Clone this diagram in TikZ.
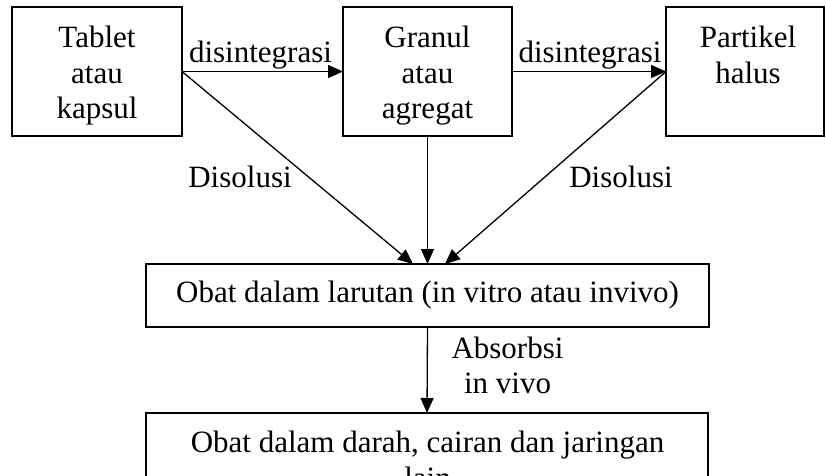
\documentclass[tikz,border=0pt]{standalone}
\usepackage{fontspec}
\setmainfont{Liberation Serif}
\usetikzlibrary{arrows.meta}
\tikzset{
  box/.style={draw, line width=1.8pt, inner sep=0pt, outer sep=0pt},
  txt/.style={inner sep=0pt, outer sep=0pt, align=center, font=\fontsize{31}{35.5}\selectfont},
  conn/.style={line width=1.3pt, -{Triangle[length=15pt, width=13pt]}},
}
\begin{document}
\begin{tikzpicture}[x=1pt, y=-1pt]
\useasboundingbox (0,0) rectangle (826,475);
\clip (0,0) rectangle (826,475);
\fill[white] (0,0) rectangle (826,475);

% boxes
\node[box, minimum width=170pt, minimum height=129pt] (b1) at (97,71.5) {};
\node[box, minimum width=169pt, minimum height=129pt] (b2) at (427.5,71.5) {};
\node[box, minimum width=158pt, minimum height=129pt] (b3) at (745,71.5) {};
\node[box, txt, minimum width=563pt, minimum height=63pt] (b4) at (427.5,295.5) {Obat dalam larutan (in vitro atau invivo)};
\node[box, minimum width=562pt, minimum height=107pt] (b5) at (427,466.5) {};

% box texts
\node[txt, anchor=north] (t1) at (97,26) {Tablet\\atau\\kapsul};
\node[txt, anchor=north] (t2) at (427.5,26) {Granul\\atau\\agregat};
\node[txt, anchor=north] (t3) at (748,26) {Partikel\\halus};
\node[txt, anchor=north] (t5) at (427.5,431) {Obat dalam darah, cairan dan jaringan\\lain};

% labels
\node[txt, anchor=base] (l1) at (260.5,62) {disintegrasi};
\node[txt, anchor=base] (l2) at (590,62) {disintegrasi};
\node[txt, anchor=base] (l3) at (240,187) {Disolusi};
\node[txt, anchor=base] (l4) at (621,187) {Disolusi};
\node[txt, anchor=north] (l5) at (507.5,336.8) {Absorbsi\\in vivo};

% arrow end points on box 4
\coordinate (c1) at (413,264);
\coordinate (c2) at (445,264);

% connectors
\draw[conn] (b1.east) -- (b2.west);
\draw[conn] (b2.east) -- (b3.west);
\draw[conn] (b1.east) -- (c1);
\draw[conn] (b2.south) -- (b4.north);
\draw[conn] (b3.west) -- (c2);
\draw[conn] (b4.south) -- (b5.north);
\end{tikzpicture}
\end{document}
